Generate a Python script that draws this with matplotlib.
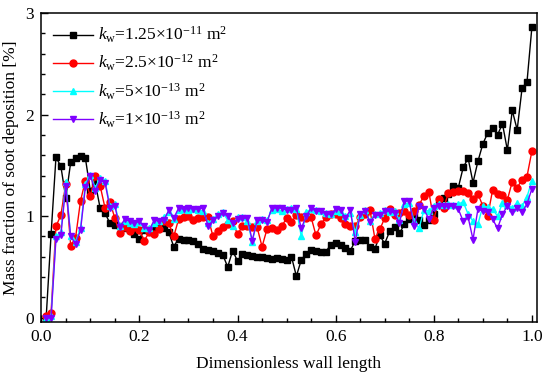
import numpy as np
import matplotlib
matplotlib.use('Agg')
import matplotlib.pyplot as plt
from matplotlib.ticker import MultipleLocator

plt.rcParams['font.family'] = 'Liberation Serif'
plt.rcParams['mathtext.fontset'] = 'custom'
plt.rcParams['mathtext.rm'] = 'Liberation Serif'
plt.rcParams['mathtext.it'] = 'Liberation Serif:italic'

# dimensionless wall position
x = np.round(np.arange(1, 101) * 0.01, 2)

# kw = 1.25e-11 m2
k1 = [0.00, 0.82, 1.58, 1.49, 1.18, 1.53, 1.57, 1.59, 1.57, 1.25,
      1.33, 1.08, 1.03, 0.93, 0.91, 0.90, 0.88, 0.86, 0.82, 0.78,
      0.86, 0.86, 0.87, 0.89, 0.88, 0.84, 0.70, 0.78, 0.77, 0.77,
      0.76, 0.73, 0.68, 0.67, 0.66, 0.64, 0.62, 0.50, 0.66, 0.56,
      0.63, 0.62, 0.61, 0.60, 0.60, 0.59, 0.58, 0.59, 0.58, 0.57,
      0.60, 0.41, 0.57, 0.63, 0.67, 0.66, 0.65, 0.65, 0.72, 0.74,
      0.72, 0.69, 0.66, 0.76, 0.77, 0.77, 0.70, 0.68, 0.81, 0.73,
      0.85, 0.89, 0.83, 0.92, 0.97, 1.00, 0.96, 0.91, 0.96, 1.02,
      1.12, 1.18, 1.22, 1.30, 1.28, 1.48, 1.57, 1.33, 1.54, 1.71,
      1.82, 1.87, 1.80, 1.91, 1.65, 2.04, 1.85, 2.26, 2.32, 2.86]

# kw = 2.5e-12 m2
k2 = [0.02, 0.05, 0.90, 1.01, 1.32, 0.71, 0.79, 1.15, 1.35, 1.20,
      1.40, 1.30, 1.08, 1.14, 0.98, 0.83, 0.89, 0.85, 0.89, 0.86,
      0.76, 0.84, 0.82, 0.87, 0.95, 0.93, 0.80, 0.97, 0.99, 1.00,
      0.96, 0.98, 0.99, 0.99, 0.80, 0.85, 0.89, 0.92, 0.95, 0.82,
      0.90, 0.90, 0.89, 0.89, 0.70, 0.87, 0.88, 0.86, 0.90, 0.98,
      0.94, 1.01, 0.99, 0.98, 0.99, 0.81, 0.92, 0.99, 1.02, 1.02,
      0.98, 0.92, 0.90, 0.90, 0.99, 1.02, 1.06, 0.78, 0.87, 0.98,
      1.07, 1.01, 1.03, 1.05, 1.01, 1.05, 1.11, 1.20, 1.24, 0.96,
      1.17, 1.08, 1.23, 1.24, 1.25, 1.25, 1.23, 1.17, 1.22, 1.10,
      1.00, 1.26, 1.22, 1.21, 1.16, 1.34, 1.28, 1.36, 1.39, 1.64]

# kw = 5e-13 m2
k3 = [0.00, 0.02, 0.80, 0.84, 1.34, 0.80, 0.75, 0.88, 1.32, 1.41,
      1.28, 1.38, 1.35, 1.10, 1.12, 0.90, 0.95, 0.93, 0.92, 0.94,
      0.88, 0.88, 0.93, 0.95, 0.99, 1.04, 0.97, 1.06, 1.07, 1.06,
      1.07, 1.06, 1.05, 0.93, 0.97, 1.02, 1.04, 0.96, 0.90, 0.99,
      0.99, 0.95, 0.75, 0.95, 0.97, 0.96, 1.06, 1.07, 1.05, 1.07,
      1.08, 1.07, 0.80, 1.04, 1.07, 1.06, 1.05, 1.03, 1.02, 1.05,
      1.04, 1.00, 1.03, 0.84, 1.01, 1.06, 0.95, 1.02, 1.03, 1.06,
      1.04, 1.05, 0.96, 1.12, 1.13, 0.95, 0.88, 1.06, 1.05, 1.10,
      1.12, 1.11, 1.12, 1.11, 1.12, 1.14, 1.02, 0.95, 0.92, 1.10,
      1.09, 1.07, 1.00, 1.13, 1.11, 1.08, 1.13, 1.10, 1.19, 1.35]

# kw = 1e-13 m2
k4 = [0.00, 0.00, 0.78, 0.81, 1.30, 0.80, 0.73, 0.86, 1.29, 1.40,
      1.25, 1.36, 1.33, 1.08, 1.10, 0.89, 0.97, 0.95, 0.93, 0.95,
      0.90, 0.86, 0.96, 0.95, 0.96, 1.06, 0.98, 1.08, 1.07, 1.08,
      1.07, 1.07, 1.08, 0.90, 0.96, 1.00, 1.03, 1.00, 0.93, 0.97,
      0.98, 0.98, 0.76, 0.96, 0.96, 0.94, 1.08, 1.08, 1.08, 1.06,
      1.06, 1.08, 0.88, 1.00, 1.08, 1.05, 1.05, 1.02, 1.02, 1.07,
      1.06, 0.98, 1.06, 0.75, 1.02, 1.05, 0.94, 1.01, 1.01, 1.05,
      1.05, 1.03, 0.93, 1.15, 1.15, 0.90, 1.10, 1.07, 0.97, 1.08,
      1.10, 1.10, 1.10, 1.10, 1.07, 0.95, 0.99, 0.77, 1.07, 1.05,
      1.04, 0.97, 0.88, 1.02, 1.10, 1.04, 1.08, 1.04, 1.12, 1.27]

labels = [r'$k_{\rm w}$=1.25×10$^{-11}$ m$^2$',
          r'$k_{\rm w}$=2.5×10$^{-12}$ m$^2$',
          r'$k_{\rm w}$=5×10$^{-13}$ m$^2$',
          r'$k_{\rm w}$=1×10$^{-13}$ m$^2$']

fs = 12.5

fig = plt.figure(figsize=(5.5, 3.8), dpi=100)
ax = fig.add_axes([0.075, 0.153, 0.901, 0.813])

ax.plot(x, k1, color='black', marker='s', ms=4.5, lw=1, label=labels[0])
ax.plot(x, k2, color='#FF0000', marker='o', ms=5, lw=1, label=labels[1])
ax.plot(x, k3, color='#00FFFF', marker='^', ms=5, lw=1, label=labels[2])
ax.plot(x, k4, color='#7F00FF', marker='v', ms=5, lw=1, label=labels[3])

ax.set_xlim(0, 1.01)
ax.set_ylim(-0.04, 3)
ax.set_xticks([0.0, 0.2, 0.4, 0.6, 0.8, 1.0])
ax.set_xticklabels(['0.0', '0.2', '0.4', '0.6', '0.8', '1.0'])
ax.set_yticks([0, 1, 2, 3])
ax.xaxis.set_minor_locator(MultipleLocator(0.05))
ax.yaxis.set_minor_locator(MultipleLocator(0.2))
ax.tick_params(which='both', direction='in', labelsize=fs, width=1)
ax.tick_params(which='major', length=5, pad=5)
ax.tick_params(which='minor', length=3)
for s in ax.spines.values():
    s.set_linewidth(1.1)

ax.set_xlabel('Dimensionless wall length', fontsize=fs, labelpad=8)
ax.set_ylabel('Mass fraction of soot deposition [%]', fontsize=fs, labelpad=5)

ax.legend(loc='upper left', frameon=False, fontsize=fs, handlelength=2.3,
          labelspacing=0.45, borderaxespad=0.4, handletextpad=0.25,
          borderpad=0.3)

fig.savefig('out.png', dpi=100)
